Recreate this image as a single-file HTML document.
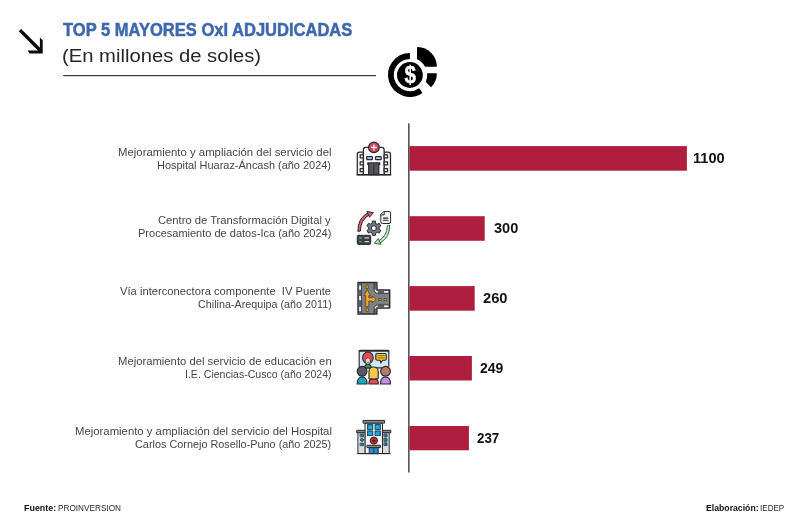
<!DOCTYPE html>
<html lang="es">
<head>
<meta charset="utf-8">
<title>TOP 5 MAYORES OxI ADJUDICADAS</title>
<style>
html,body{margin:0;padding:0;background:#fff}
#c{position:relative;width:800px;height:527px;overflow:hidden;background:#fff;font-family:"Liberation Sans", sans-serif}
.t{position:absolute;white-space:pre;transform-origin:0 0}
svg{position:absolute;left:0;top:0}
</style>
</head>
<body>
<div id="c">
<svg width="800" height="527" viewBox="0 0 800 527">
<!-- title rule -->
<rect x="63.2" y="75" width="312.8" height="1.2" fill="#3a3a3a"/>
<!-- arrow -->
<g fill="#0a0a0a">
<path d="M18.8 31.3 L21.2 28.9 L41.8 49.5 L39.4 51.9 Z"/>
<path d="M42.7 53.4 L29.6 53.4 L27.6 50.6 L39.9 50.6 L39.9 37.4 L42.7 40.2 Z"/>
</g>
<!-- pie / coin icon -->
<g id="pie">
<path d="M417 66.85 L417 47.6 Q417 46.95 417.7 46.95 A19.9 19.9 0 0 1 436.9 66.1 Q436.9 66.85 436.2 66.85 Z" fill="#000"/>
<path d="M417 73.2 L436.2 73.2 Q436.9 73.2 436.85 73.9 A19.9 19.9 0 0 1 431.1 87.25 Z" fill="#000"/>
<circle cx="409.9" cy="75" r="17.3" fill="#fff"/>
<path d="M409.9 56 A19 19 0 1 0 420.8 90.56" fill="none" stroke="#000" stroke-width="5.8"/>
<circle cx="409.9" cy="75" r="12.9" fill="#000"/>
<text transform="translate(410.3 75.2) scale(0.9 1.06)" x="0" y="7.7" font-family="Liberation Sans, sans-serif" font-weight="bold" font-size="23" fill="#fff" stroke="#fff" stroke-width="0.35" text-anchor="middle">$</text>
</g>
<!-- axis -->
<rect x="408" y="123.3" width="1.6" height="349.2" fill="#555"/>
<!-- bars -->
<g fill="#af1e3e">
<rect x="409.4" y="146.1" width="277.5" height="24.6"/>
<rect x="409.4" y="216.2" width="75.3" height="24.6"/>
<rect x="409.4" y="286.1" width="65.3" height="24.6"/>
<rect x="409.4" y="356" width="62.5" height="24.5"/>
<rect x="409.4" y="426" width="59.5" height="24.3"/>
</g>
<!--ICONS-->
<!-- icon 1: hospital -->
<g stroke="#2a2a2e" stroke-width="1.25" stroke-linejoin="round" stroke-linecap="round">
<path d="M357.3 174.7 V154.2 Q357.3 152 359.5 152 H363.4 V174.7 Z" fill="#f3f3f5"/>
<path d="M390.5 174.7 V154.2 Q390.5 152 388.3 152 H384.1 V174.7 Z" fill="#f3f3f5"/>
<path d="M363.4 174.7 V149.6 Q363.4 147.4 365.6 147.4 H381.9 Q384.1 147.4 384.1 149.6 V174.7 Z" fill="#fafafb"/>
<rect x="360.2" y="154.9" width="3.2" height="3" fill="#fff"/>
<rect x="360.2" y="161.9" width="3.2" height="3" fill="#fff"/>
<rect x="360.2" y="168.7" width="3.2" height="3" fill="#fff"/>
<rect x="384.1" y="154.9" width="3.4" height="3" fill="#fff"/>
<rect x="384.1" y="161.9" width="3.4" height="3" fill="#fff"/>
<rect x="384.1" y="168.7" width="3.4" height="3" fill="#fff"/>
<rect x="366.7" y="156.6" width="5.7" height="3.1" rx="0.8" fill="#a9d9ef"/>
<rect x="375.5" y="156.6" width="5.7" height="3.1" rx="0.8" fill="#a9d9ef"/>
<path d="M368.7 174.7 V164.3 H367.8 V162.9 H379.7 V164.3 H378.8 V174.7 Z" fill="#55555b"/>
<path d="M373.8 164.5 V174.5" stroke="#2a2a2e" stroke-width="0.9"/>
<circle cx="373.9" cy="147.4" r="5.3" fill="#cd4660"/>
<path d="M357 174.8 H390.8" fill="none"/>
</g>
<path d="M373.9 144.4 V150.4 M370.9 147.4 H376.9" stroke="#fff" stroke-width="1.25" fill="none"/>
<!-- icon 2: digital transformation -->
<g stroke="#2a2a2e" stroke-width="1" stroke-linejoin="round" stroke-linecap="round">
<path d="M358 231 Q357.4 218.6 367.6 213 L368.8 215.2 Q360.4 220.2 360.4 231 Q359.2 231.8 358 231 Z" fill="#dc5a6e"/>
<path d="M367.3 211.6 L373.4 212.6 L369.8 217 Z" fill="#dc5a6e"/>
<path d="M389.6 225.8 Q390.2 237 380.2 242.9 L379 240.7 Q387.3 235.6 387.3 225.8 Q388.5 225 389.6 225.8 Z" fill="#cfe9cf" stroke="#2f6e44"/>
<path d="M380.5 244.3 L374.3 243.2 L378 238.9 Z" fill="#bfe3bf" stroke="#2f6e44"/>
<path d="M384.2 211.5 H389 Q390.6 211.5 390.6 213.1 V221.9 Q390.6 223.5 389 223.5 H382.4 Q380.8 223.5 380.8 221.9 V214.9 Z" fill="#f4f4f6"/>
<path d="M380.8 214.9 H384.2 V211.5" fill="#d9dbe0"/>
<path d="M383.4 218.1 H388 M383.4 220.3 H388" stroke-width="1.1"/>
<path id="gear" d="M375.63 223.19 L375.42 221.06 L372.38 221.06 L372.17 223.19 L370.42 224.20 L368.48 223.32 L366.96 225.94 L368.70 227.19 L368.70 229.21 L366.96 230.46 L368.48 233.08 L370.42 232.20 L372.17 233.21 L372.38 235.34 L375.42 235.34 L375.63 233.21 L377.38 232.20 L379.32 233.08 L380.84 230.46 L379.10 229.21 L379.10 227.19 L380.84 225.94 L379.32 223.32 L377.38 224.20 Z" fill="#727985"/>
<circle cx="373.9" cy="228.2" r="2.5" fill="#fff"/>
<rect x="357.3" y="235.3" width="13.4" height="9.1" rx="1.2" fill="#3b4148"/>
</g>
<path d="M364.6 237.8 H369 M364.6 241.6 H369" stroke="#cfd3d8" stroke-width="1.2" fill="none"/>
<path d="M359.2 238 H361.6 M359.2 241.6 H361.6" stroke="#5fae7a" stroke-width="1.3" fill="none"/>
<!-- icon 3: road junction -->
<g stroke-linejoin="round">
<path d="M358 282.5 H376.9 V290 H389.7 V308.1 H376.9 V314 H358 Z" fill="#7d8184" stroke="#2a2a2e" stroke-width="1.4"/>
<path d="M358.6 283.1 H361.3 V313.4 H358.6 Z" fill="#5e6266"/>
<path d="M374 283.1 H376.3 V289.4 Q376.3 290.6 377.5 290.6 H389.1 V293.2 H378.6 Q374 293.2 374 288.6 Z" fill="#5e6266"/>
<path d="M374 313.4 H376.3 V308.7 Q376.3 307.5 377.5 307.5 H389.1 V305 H378.6 Q374 305 374 309.6 Z" fill="#5e6266"/>
<path d="M361.4 283 V313.5" stroke="#2a2a2e" stroke-width="0.7" fill="none"/>
<path d="M374 283 V288.8 Q374 293.3 378.5 293.3 H389.3 M374 313.5 V309.4 Q374 304.9 378.5 304.9 H389.3" stroke="#2a2a2e" stroke-width="0.7" fill="none"/>
<g fill="#fff">
<rect x="359.2" y="285.6" width="1.7" height="4.2"/>
<rect x="359.2" y="296" width="1.7" height="4.2"/>
<rect x="359.2" y="306.9" width="1.7" height="4.2"/>
<rect x="384.1" y="291.1" width="4.2" height="1.6"/>
<rect x="384.1" y="305.5" width="4.2" height="1.6"/>
<path d="M374.5 289.6 Q374.9 292.6 377.9 292.8 L377.9 291.6 Q376 291.2 375.7 289.6 Z"/>
<path d="M374.5 308.6 Q374.9 305.6 377.9 305.4 L377.9 306.6 Q376 307 375.7 308.6 Z"/>
</g>
<g fill="#f5a927" stroke="#3a2a10" stroke-width="0.6">
<rect x="366.2" y="285.2" width="2.1" height="3.3"/>
<rect x="366.2" y="308.1" width="2.1" height="3.4"/>
<rect x="378.7" y="298.5" width="2.5" height="1.9"/>
<rect x="384.1" y="298.5" width="2.5" height="1.9"/>
<path d="M367.2 289.4 L370.2 295.6 L368.8 295.6 L368.8 297.9 L372.2 297.9 L372.2 296.1 L376.1 299.4 L372.2 302.7 L372.2 301 L368.8 301 L368.8 306.6 L365.7 306.6 L365.7 295.6 L364.2 295.6 Z"/>
</g>
</g>
<!-- icon 4: classroom -->
<g stroke="#2a2a2e" stroke-width="1.15" stroke-linejoin="round" stroke-linecap="round">
<rect x="359.2" y="350.4" width="29.6" height="17.5" rx="1.2" fill="#cdeaf8"/>
<path d="M359.2 351 H388.8" stroke-width="1.5"/>
<path d="M364.6 368 Q364.6 364.2 367.9 364.2 Q371.2 364.2 371.2 368 Z" fill="#2f9462"/>
<ellipse cx="367.9" cy="357.8" rx="5.3" ry="5.8" fill="#e8485c"/>
<ellipse cx="367.9" cy="361" rx="2.6" ry="3.2" fill="#f8dccb" stroke-width="0.7"/>
<path d="M366.9 362.3 Q367.9 363.4 368.9 362.3" stroke="#c0392b" stroke-width="0.8" fill="none"/>
<path d="M377 353.5 H385 Q386.2 353.5 386.2 354.7 V359 Q386.2 360.2 385 360.2 H382.6 L380.8 363 L380 360.2 H377 Q375.8 360.2 375.8 359 V354.7 Q375.8 353.5 377 353.5 Z" fill="#f3c333"/>
<path d="M377.8 355.7 H384.2 M377.8 357.9 H384.2" stroke="#8a6a1a" stroke-width="1"/>
<path d="M357.2 384 Q357.2 377 362.1 377 Q367.1 377 367.1 384 Z" fill="#1aa7c6"/>
<circle cx="362.1" cy="371.3" r="4.9" fill="#555b61"/>
<path d="M380.5 384 Q380.5 377 385.5 377 Q390.5 377 390.5 384 Z" fill="#c48de2"/>
<circle cx="385.5" cy="371.3" r="4.9" fill="#b27c65"/>
<path d="M368.8 384 Q368.8 378.4 373.6 378.4 Q378.4 378.4 378.4 384 Z" fill="#e84a5c"/>
<path d="M369 378.6 V371.6 Q369 367 373.6 367 Q378.2 367 378.2 371.6 V378.6 Q373.6 379.6 369 378.6 Z" fill="#f8c84c"/>
</g>
<!-- icon 5: hospital 2 -->
<g stroke="#2a2a2e" stroke-width="1" stroke-linejoin="round" stroke-linecap="round">
<rect x="358.3" y="432.6" width="7.1" height="21" fill="#dadce0"/>
<rect x="382.5" y="432.6" width="6.7" height="21" fill="#dadce0"/>
<rect x="357.1" y="430.3" width="8.7" height="2.4" fill="#85898d"/>
<rect x="382.1" y="430.3" width="8.7" height="2.4" fill="#85898d"/>
<rect x="365.4" y="423.1" width="17.1" height="30.5" fill="#f4f4f6"/>
<rect x="363.4" y="420.4" width="21.2" height="2.7" fill="#85898d"/>
<g fill="#20a9e2" stroke="#17566a" stroke-width="1.2">
<rect x="367.6" y="424.6" width="5.1" height="5"/>
<rect x="375.2" y="424.6" width="5.1" height="5"/>
<rect x="367.6" y="431.2" width="5.1" height="4.3"/>
<rect x="375.2" y="431.2" width="5.1" height="4.3"/>
</g>
<g fill="#2c7385" stroke="#1a3f4a" stroke-width="0.7">
<rect x="360.4" y="434" width="3.2" height="2.8"/>
<circle cx="362" cy="439.8" r="1.6"/>
<rect x="360.4" y="443.1" width="3.2" height="2.5"/>
<rect x="384.2" y="434" width="2.9" height="2.8"/>
<rect x="384.2" y="438.2" width="2.9" height="3.2"/>
<rect x="384.2" y="442.8" width="2.9" height="2.8"/>
</g>
<circle cx="373.9" cy="440.6" r="3.6" fill="#d62d2d"/>
<path d="M373.9 438.9 V442.3 M372.2 440.6 H375.6" stroke="#7a1414" stroke-width="1.1"/>
<rect x="369.6" y="447.6" width="8.6" height="6" fill="#1f8fd6"/>
<path d="M373.9 447.8 V453.4" stroke-width="0.8"/>
<rect x="367.4" y="445.3" width="13" height="2.3" fill="#85898d"/>
<path d="M357.6 453.6 H390.4"/>
</g>
</svg>

<div class="t" style="left:62.96px;top:19px;line-height:21px;font-size:18.5px;font-weight:bold;color:#3e68ad;-webkit-text-stroke:0.5px #3e68ad;transform:scaleX(0.8934)">TOP 5 MAYORES OxI ADJUDICADAS</div>
<div class="t" style="left:62.25px;top:45px;line-height:21px;font-size:19.1px;color:#262626;transform:scaleX(1.0594)">(En millones de soles)</div>
<div class="t" style="left:118.27px;top:146px;line-height:12px;font-size:10.8px;color:#454545;transform:scaleX(1.0525)">Mejoramiento y ampliación del servicio del</div>
<div class="t" style="left:157.40px;top:159px;line-height:12px;font-size:10.8px;color:#454545;transform:scaleX(1.0135)">Hospital Huaraz-Áncash (año 2024)</div>
<div class="t" style="left:158.33px;top:214px;line-height:12px;font-size:10.8px;color:#454545;transform:scaleX(1.0388)">Centro de Transformación Digital y</div>
<div class="t" style="left:138.00px;top:227px;line-height:12px;font-size:10.8px;color:#454545;transform:scaleX(1.0196)">Procesamiento de datos-Ica (año 2024)</div>
<div class="t" style="left:120.45px;top:285px;line-height:12px;font-size:10.8px;color:#454545;transform:scaleX(1.0372)">Vía interconectora componente  IV Puente</div>
<div class="t" style="left:197.65px;top:298px;line-height:12px;font-size:10.8px;color:#454545;transform:scaleX(0.9960)">Chilina-Arequipa (año 2011)</div>
<div class="t" style="left:118.08px;top:355px;line-height:12px;font-size:10.8px;color:#454545;transform:scaleX(1.0440)">Mejoramiento del servicio de educación en</div>
<div class="t" style="left:184.78px;top:368px;line-height:12px;font-size:10.8px;color:#454545;transform:scaleX(0.9770)">I.E. Ciencias-Cusco (año 2024)</div>
<div class="t" style="left:74.82px;top:425px;line-height:12px;font-size:10.8px;color:#454545;transform:scaleX(1.0494)">Mejoramiento y ampliación del servicio del Hospital</div>
<div class="t" style="left:135.20px;top:438px;line-height:12px;font-size:10.8px;color:#454545;transform:scaleX(1.0057)">Carlos Cornejo Rosello-Puno (año 2025)</div>
<div class="t" style="left:692.68px;top:150px;line-height:16px;font-size:14.4px;font-weight:bold;color:#111;transform:scaleX(1.0156)">1100</div>
<div class="t" style="left:493.67px;top:220px;line-height:16px;font-size:14.4px;font-weight:bold;color:#111;transform:scaleX(1.0132)">300</div>
<div class="t" style="left:483.09px;top:290px;line-height:16px;font-size:14.4px;font-weight:bold;color:#111;transform:scaleX(1.0207)">260</div>
<div class="t" style="left:480.42px;top:360px;line-height:16px;font-size:14.4px;font-weight:bold;color:#111;transform:scaleX(0.9703)">249</div>
<div class="t" style="left:477.34px;top:430px;line-height:16px;font-size:14.4px;font-weight:bold;color:#111;transform:scaleX(0.9264)">237</div>
<div class="t" style="left:23.75px;top:502px;line-height:11px;font-size:9.4px;font-weight:bold;color:#111;transform:scaleX(0.9512)">Fuente:</div>
<div class="t" style="left:57.63px;top:502px;line-height:11px;font-size:9.6px;color:#2a2a2a;transform:scaleX(0.8569)">PROINVERSION</div>
<div class="t" style="left:705.62px;top:502px;line-height:11px;font-size:9.4px;font-weight:bold;color:#111;transform:scaleX(0.9267)">Elaboración:</div>
<div class="t" style="left:759.95px;top:502px;line-height:11px;font-size:9.6px;color:#2a2a2a;transform:scaleX(0.8429)">IEDEP</div>
</div>
</body>
</html>
